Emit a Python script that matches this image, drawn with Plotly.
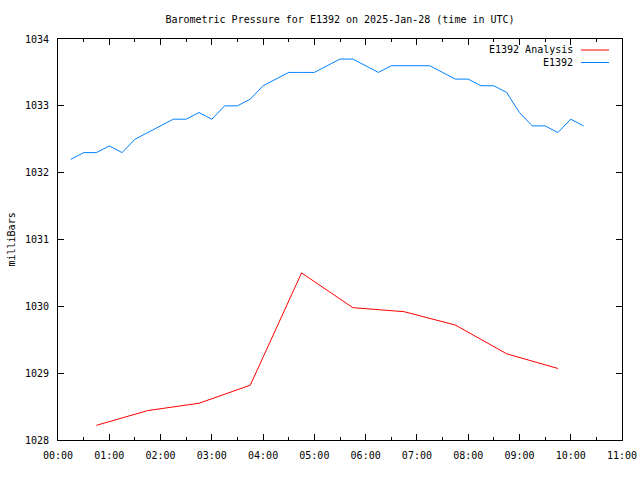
import plotly.graph_objects as go

DAY = "2025-01-28"

station_times = [
    "00:15", "00:30", "00:45", "01:00", "01:15", "01:30", "01:45", "02:00",
    "02:15", "02:30", "02:45", "03:00", "03:15", "03:30", "03:45", "04:00",
    "04:15", "04:30", "04:45", "05:00", "05:15", "05:30", "05:45", "06:00",
    "06:15", "06:30", "06:45", "07:00", "07:15", "07:30", "07:45", "08:00",
    "08:15", "08:30", "08:45", "09:00", "09:15", "09:30", "09:45", "10:00",
    "10:15",
]
station_values = [
    1032.2, 1032.3, 1032.3, 1032.4, 1032.3, 1032.5, 1032.6, 1032.7,
    1032.8, 1032.8, 1032.9, 1032.8, 1033.0, 1033.0, 1033.1, 1033.3,
    1033.4, 1033.5, 1033.5, 1033.5, 1033.6, 1033.7, 1033.7, 1033.6,
    1033.5, 1033.6, 1033.6, 1033.6, 1033.6, 1033.5, 1033.4, 1033.4,
    1033.3, 1033.3, 1033.2, 1032.9, 1032.7, 1032.7, 1032.6, 1032.8,
    1032.7,
]

analysis_times = ["00:45", "01:45", "02:45", "03:45", "04:45",
                  "05:45", "06:45", "07:45", "08:45", "09:45"]
analysis_values = [1028.22, 1028.44, 1028.55, 1028.82, 1030.50,
                   1029.98, 1029.92, 1029.72, 1029.29, 1029.07]

series_names = ["E1392 Analysis", "E1392"]
series_colors = ["#ff0000", "#0080ff"]

FONT = "DejaVu Sans Mono"
L, R, T, B = 58, 18, 39, 40
PW = 640 - L - R
PH = 480 - T - B

fig = go.Figure()
fig.add_trace(go.Scatter(
    x=[f"{DAY} {t}" for t in analysis_times], y=analysis_values,
    mode="lines", name=series_names[0],
    line=dict(color=series_colors[0], width=1), showlegend=False))
fig.add_trace(go.Scatter(
    x=[f"{DAY} {t}" for t in station_times], y=station_values,
    mode="lines", name=series_names[1],
    line=dict(color=series_colors[1], width=1), showlegend=False))

# gnuplot-style legend: text right-aligned, sample line to the right
for i, (name, col) in enumerate(zip(series_names, series_colors)):
    ypix = 50 + i * 12.5
    yp = 1 - (ypix - T) / PH
    fig.add_annotation(text=name, xref="paper", yref="paper",
                       x=(575 - L) / PW, y=yp, xanchor="right", yanchor="middle",
                       showarrow=False, font=dict(family=FONT, size=10, color="black"))
    fig.add_shape(type="line", xref="paper", yref="paper",
                  x0=(581 - L) / PW, x1=(609 - L) / PW, y0=yp, y1=yp,
                  line=dict(color=col, width=1))

fig.add_annotation(text="milliBars", xref="paper", yref="paper",
                   x=(11 - L) / PW, y=0.5, textangle=-90,
                   xanchor="center", yanchor="middle", showarrow=False,
                   font=dict(family=FONT, size=10, color="black"))

fig.update_layout(
    width=640, height=480,
    margin=dict(l=L, r=R, t=T, b=B, autoexpand=False),
    paper_bgcolor="white", plot_bgcolor="white",
    font=dict(family=FONT, size=10, color="black"),
    title=dict(text="Barometric Pressure for E1392 on 2025-Jan-28 (time in UTC)",
               x=0.5, xref="paper", y=1 - 19 / 480, yanchor="middle",
               font=dict(family=FONT, size=10, color="black")),
    showlegend=False,
)
fig.update_xaxes(
    type="date", range=[f"{DAY} 00:00", f"{DAY} 11:00"],
    dtick=3600000, tick0=f"{DAY} 00:00", tickformat="%H:%M",
    ticks="inside", ticklen=6, tickcolor="black", automargin=False,
    showline=True, linecolor="black", linewidth=1, mirror="ticks",
    showgrid=False, zeroline=False, ticklabelstandoff=6,
    minor=dict(dtick=1800000, ticks="inside", ticklen=3, tickcolor="black", showgrid=False),
)
fig.update_yaxes(
    range=[1028, 1034], dtick=1, tick0=1028, automargin=False,
    ticks="inside", ticklen=6, tickcolor="black",
    showline=True, linecolor="black", linewidth=1, mirror="ticks",
    showgrid=False, zeroline=False, ticklabelstandoff=6,
)

fig.write_html("out.html")
